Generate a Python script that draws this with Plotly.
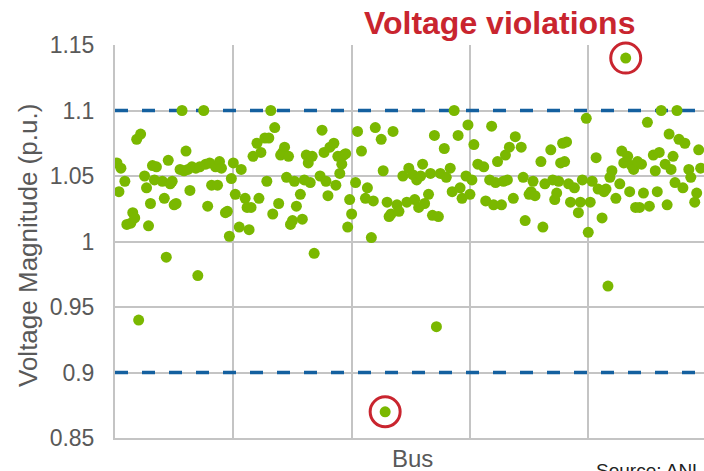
import plotly.graph_objects as go

# bus index and voltage magnitude (p.u.)
bus = [1, 2, 3, 5, 6, 8, 9, 10, 11, 12, 13, 15, 16, 17, 18, 19, 20, 21, 24, 25,
       26, 27, 28, 29, 30, 31, 33, 34, 35, 36, 37, 38, 39, 41, 42, 43, 45, 46, 47, 48,
       49, 51, 52, 53, 54, 56, 57, 58, 59, 60, 61, 63, 64, 66, 67, 68, 69, 70, 72, 73,
       74, 76, 77, 78, 79, 80, 81, 83, 84, 85, 86, 87, 88, 89, 90, 91, 92, 94, 95, 96,
       97, 98, 99, 100, 101, 104, 105, 106, 107, 108, 109, 111, 112, 113, 114, 115, 116, 117, 118, 119,
       120, 122, 123, 125, 127, 128, 130, 131, 132, 135, 136, 137, 138, 139, 140, 141, 143, 144, 146, 148,
       149, 151, 152, 153, 154, 155, 156, 157, 159, 160, 161, 162, 163, 164, 165, 167, 168, 170, 171, 172,
       174, 175, 176, 178, 179, 180, 181, 182, 184, 187, 188, 190, 191, 192, 193, 194, 196, 197, 198, 199,
       200, 202, 203, 206, 207, 208, 210, 211, 212, 213, 216, 217, 218, 221, 222, 223, 224, 225, 226, 227,
       228, 229, 230, 231, 233, 235, 236, 237, 239, 240, 241, 242, 244, 245, 247, 248, 249, 250, 251, 252,
       254, 256, 257, 258, 259, 260, 261, 262, 263, 264, 265, 266, 267, 268, 270, 271, 273, 274, 275, 276,
       277, 279, 280, 281, 282, 283, 284, 285, 286, 288, 289, 291, 292, 294, 295, 296, 297]
voltage = [1.060, 1.038, 1.056, 1.046, 1.013, 1.014, 1.022, 1.018, 1.078, 0.940, 1.082, 1.050, 1.041, 1.012, 1.029, 1.058, 1.047, 1.057, 1.046, 1.033,
           0.988, 1.062, 1.044, 1.046, 1.028, 1.029, 1.055, 1.100, 1.054, 1.069, 1.055, 1.039, 1.057, 1.056, 0.974, 1.057, 1.100, 1.059, 1.027, 1.060,
           1.043, 1.057, 1.043, 1.061, 1.056, 1.022, 1.023, 1.004, 1.048, 1.060, 1.036, 1.011, 1.055, 1.033, 1.026, 1.009, 1.026, 1.065, 1.075, 1.033,
           1.068, 1.079, 1.046, 1.079, 1.100, 1.021, 1.087, 1.029, 1.066, 1.068, 1.072, 1.049, 1.065, 1.013, 1.016, 1.046, 1.027, 1.036, 1.017, 1.047,
           1.066, 1.060, 1.045, 1.065, 0.991, 1.050, 1.085, 1.068, 1.046, 1.035, 1.072, 1.075, 1.043, 1.065, 1.052, 1.059, 1.066, 1.067, 1.011, 1.032,
           1.021, 1.045, 1.084, 1.069, 1.033, 1.041, 1.003, 1.031, 1.087, 1.078, 1.054, 0.870, 1.030, 1.019, 1.021, 1.084, 1.028, 1.023, 1.050, 1.030,
           1.056, 1.051, 1.032, 1.047, 1.026, 1.050, 1.059, 1.029, 1.036, 1.052, 1.020, 1.081, 0.935, 1.019, 1.052, 1.071, 1.049, 1.056, 1.038, 1.100,
           1.081, 1.041, 1.033, 1.050, 1.089, 1.036, 1.047, 1.074, 1.059, 1.057, 1.031, 1.047, 1.088, 1.028, 1.045, 1.061, 1.028, 1.046, 1.066, 1.047,
           1.072, 1.033, 1.080, 1.072, 1.049, 1.016, 1.036, 1.038, 1.046, 1.035, 1.061, 1.011, 1.044, 1.070, 1.047, 1.032, 1.037, 1.046, 1.060, 1.075,
           1.061, 1.076, 1.044, 1.030, 1.041, 1.022, 1.030, 1.047, 1.094, 1.007, 1.030, 1.046, 1.064, 1.040, 1.018, 1.038, 1.040, 0.966, 1.049, 1.054,
           1.033, 1.044, 1.069, 1.060, 1.140, 1.065, 1.038, 1.058, 1.055, 1.026, 1.061, 1.026, 1.059, 1.037, 1.091, 1.027, 1.066, 1.054, 1.038, 1.068,
           1.100, 1.059, 1.028, 1.082, 1.055, 1.065, 1.045, 1.100, 1.078, 1.041, 1.075, 1.055, 1.049, 1.030, 1.037, 1.070, 1.056]

v_min, v_max = 0.9, 1.1
x_range = [0, 298.7]
y_ticks = [0.85, 0.9, 0.95, 1.0, 1.05, 1.1, 1.15]
y_labels = ["0.85", "0.9", "0.95", "1", "1.05", "1.1", "1.15"]

viol_bus = [b for b, v in zip(bus, voltage) if v > v_max + 0.01 or v < v_min - 0.01]
viol_v = [v for v in voltage if v > v_max + 0.01 or v < v_min - 0.01]

FONT = "Liberation Sans, Arial, sans-serif"
GREEN = "#7AB800"
RED = "#C9252F"
BLUE = "#14609F"
GRID = "#C4C4C4"

fig = go.Figure()
# voltage limits, drawn first so the points sit on top of them
for lim in (v_min, v_max):
    fig.add_trace(go.Scatter(x=x_range, y=[lim, lim], mode="lines",
                             line=dict(color=BLUE, width=3.5, dash="13px,14px"),
                             showlegend=False, hoverinfo="skip"))
fig.add_trace(go.Scatter(x=bus, y=voltage, mode="markers",
                         marker=dict(color=GREEN, size=11), showlegend=False))
fig.add_trace(go.Scatter(x=viol_bus, y=viol_v, mode="markers",
                         marker=dict(symbol="circle-open", color=RED, size=30, line=dict(width=3, color=RED)),
                         showlegend=False, cliponaxis=False))

fig.update_layout(
    width=704, height=471,
    margin=dict(l=115, r=0, t=45, b=33),
    paper_bgcolor="white", plot_bgcolor="white",
    font=dict(family=FONT, color="#595959"),
    xaxis=dict(range=x_range, dtick=60, tick0=0, showticklabels=False,
               showgrid=True, gridcolor=GRID, gridwidth=2, zeroline=False,
               showline=True, linecolor=GRID, linewidth=2),
    yaxis=dict(range=[0.85, 1.15], tickvals=y_ticks, ticktext=y_labels,
               tickfont=dict(size=23, color="#595959"), ticks="",
               ticklabelstandoff=14,
               showgrid=True, gridcolor=GRID, gridwidth=2, zeroline=False,
               showline=True, linecolor=GRID, linewidth=2),
    annotations=[
        dict(text="Voltage violations", xref="paper", yref="paper", x=(499 - 115) / 589, y=1,
             yshift=22, xanchor="center", yanchor="middle", showarrow=False,
             font=dict(family=FONT, size=32, color=RED, weight="bold")),
        dict(text="Voltage Magnitude (p.u.)", xref="paper", yref="paper", x=(28 - 115) / 589,
             y=(438 - 246) / 393, xanchor="center", yanchor="middle", textangle=-90, showarrow=False,
             font=dict(family=FONT, size=26, color="#595959")),
        dict(text="Bus", xref="paper", yref="paper", x=(412 - 115) / 589, y=0,
             yshift=-20, xanchor="center", yanchor="middle", showarrow=False,
             font=dict(family=FONT, size=24, color="#595959")),
        dict(text="Source: ANL", xref="paper", yref="paper", x=(594 - 115) / 589, y=0,
             yshift=-32, xanchor="left", yanchor="middle", showarrow=False,
             font=dict(family=FONT, size=19, color="#222222")),
    ],
)

fig.write_html("out.html", config={"displayModeBar": False},
               post_script="document.body.style.margin='0';")
